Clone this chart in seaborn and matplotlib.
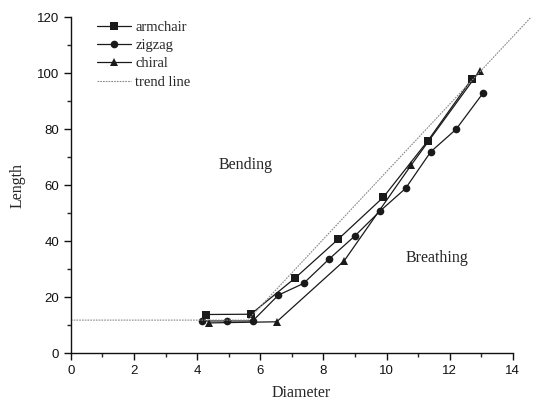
import numpy as np
import pandas as pd
import matplotlib
matplotlib.use("Agg")
import matplotlib.pyplot as plt
import seaborn as sns

# data
armchair_x = [4.27, 5.70, 7.10, 8.47, 9.90, 11.30, 12.70]
armchair_y = [13.8, 13.9, 26.8, 40.7, 55.7, 75.7, 97.9]

zigzag_x = [4.14, 4.96, 5.76, 6.57, 7.37, 8.18, 9.00, 9.80, 10.60, 11.40, 12.20, 13.06]
zigzag_y = [11.5, 11.5, 11.5, 20.7, 24.9, 33.6, 41.9, 50.8, 58.8, 71.9, 79.9, 92.9]

chiral_x = [4.38, 6.52, 8.66, 10.77, 12.95]
chiral_y = [10.8, 11.2, 33.0, 67.0, 100.8]

trend_x = [0.0, 5.6, 14.58]
trend_y = [11.8, 11.8, 120.0]

x_ticks = [0, 2, 4, 6, 8, 10, 12, 14]
y_ticks = [0, 20, 40, 60, 80, 100, 120]

sns.set_style("ticks")
plt.rcParams['font.family'] = ['Liberation Sans', 'DejaVu Sans']
serif = ['Liberation Serif', 'DejaVu Serif']

fig = plt.figure(figsize=(5.41, 4.05), dpi=100)
ax = fig.add_axes([0.131, 0.128, 0.852, 0.830])

df_arm = pd.DataFrame({'x': armchair_x, 'y': armchair_y})
df_zig = pd.DataFrame({'x': zigzag_x, 'y': zigzag_y})
df_chi = pd.DataFrame({'x': chiral_x, 'y': chiral_y})
df_tr = pd.DataFrame({'x': trend_x, 'y': trend_y})

common = dict(color='#1a1a1a', linewidth=0.9, sort=False, markersize=5.5, markeredgewidth=0)
sns.lineplot(data=df_arm, x='x', y='y', marker='s', label='armchair', ax=ax, **common)
sns.lineplot(data=df_zig, x='x', y='y', marker='o', label='zigzag', ax=ax, **common)
sns.lineplot(data=df_chi, x='x', y='y', marker='^', label='chiral', ax=ax, **common)
sns.lineplot(data=df_tr, x='x', y='y', color='#888888', linewidth=0.8,
             linestyle=(0, (1.5, 1)), sort=False, label='trend line', ax=ax)

ax.set_xlim(0, 14.6)
ax.set_ylim(0, 120)
ax.spines['right'].set_visible(False)
ax.spines['top'].set_visible(False)
ax.spines['bottom'].set_bounds(0, 14)
ax.set_xticks(x_ticks)
ax.set_yticks(y_ticks)
ax.set_xticks(np.arange(1, 14, 2), minor=True)
ax.set_yticks(np.arange(10, 120, 20), minor=True)
ax.tick_params(which='major', direction='out', length=5, width=1, labelsize=9.5, colors='#111111')
ax.tick_params(which='minor', direction='out', length=3, width=1)
for s in ['left', 'bottom']:
    ax.spines[s].set_linewidth(1)
    ax.spines[s].set_color('#111111')

ax.set_xlabel('Diameter', family=serif, fontsize=11.5, labelpad=6)
ax.set_ylabel('Length', family=serif, fontsize=11.5, labelpad=8)

ax.text(5.52, 67, 'Bending', family=serif, fontsize=11.5, ha='center', va='center')
ax.text(11.6, 34, 'Breathing', family=serif, fontsize=11.5, ha='center', va='center')

leg = ax.legend(loc='upper left', bbox_to_anchor=(0.035, 1.02), frameon=False,
                prop={'family': serif, 'size': 10.5}, handlelength=2.3,
                handletextpad=0.3, labelspacing=0.35, borderaxespad=0.3)

fig.savefig('out.png', dpi=100)
